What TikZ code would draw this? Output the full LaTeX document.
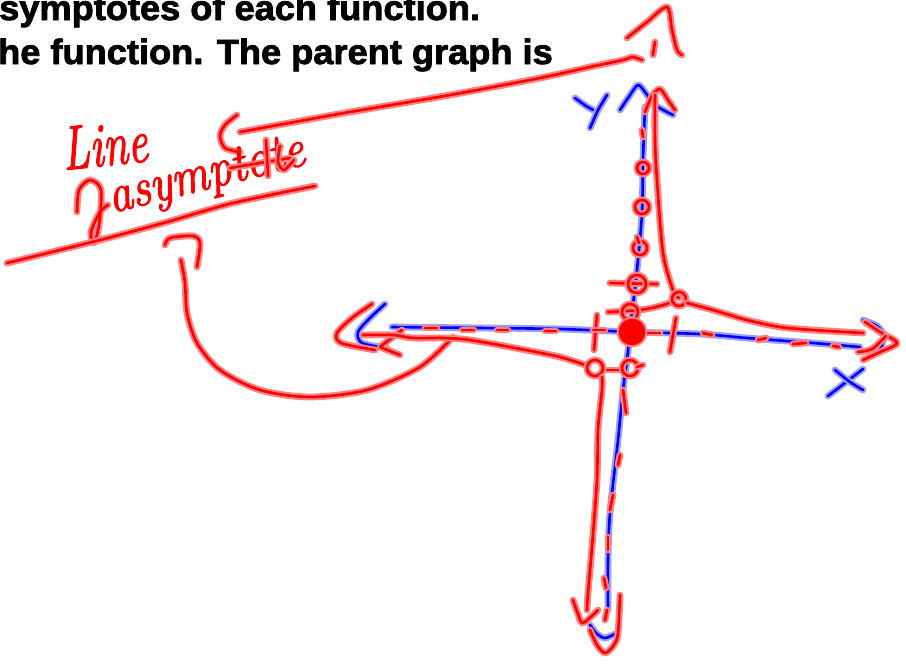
\documentclass[tikz,border=0pt]{standalone}
\usepackage{fontspec}
\setmainfont{Liberation Sans}
\newfontfamily\headfont[BoldFeatures={FakeBold=2.2}]{Liberation Sans}
\newfontfamily\handfont[ItalicFeatures={FakeBold=2.2}]{Latin Modern Roman}
\begin{document}
\begin{tikzpicture}[x=1pt,y={(0pt,-1pt)},
  rs/.style={draw=red, line width=2.6pt, line cap=round, line join=round,
    preaction={draw=red!50, line width=6.8pt, line cap=round, line join=round}},
  bs/.style={draw=blue, line width=2.6pt, line cap=round, line join=round,
    preaction={draw=blue!38, line width=6.8pt, line cap=round, line join=round}},
  blob/.style={rs, fill=red},
  head/.style={anchor=base west, inner sep=0pt, font=\headfont\bfseries\fontsize{34}{40}\selectfont},
  hand/.style={anchor=base west, inner sep=0pt, text=red}
]
\useasboundingbox (0,0) rectangle (906,664);
\fill[white] (0,0) rectangle (906,664);

% printed text
\node[head] (t1) at (-1,20) {\scalebox{1.065}[1.03]{symptotes of each function.}};
\node[head] (t2) at (-2,64) {\scalebox{1.065}[1.03]{he function. The parent graph is}};

% ---------- blue axes ----------
\draw[bs] plot[smooth] coordinates {(645,107) (643,160) (642,213) (637,270) (632,313) (627,360) (623,390) (618,440) (610,513) (608,560) (608,610)};
\draw[bs] plot[smooth] coordinates {(590,625) (597,634) (605,638) (615,634)};
\draw[bs] plot[smooth] coordinates {(620,110) (630,95) (638,85) (645,92) (655,105) (673,115)};
\draw[bs] (575,98) -- (586,106) -- (593,110);
\draw[bs] (607,95) -- (598,110) -- (590,128);
\draw[bs] plot[smooth] coordinates {(392,327) (480,328) (560,329) (632,332) (700,334) (747,338) (813,343) (860,347)};
\draw[bs] plot[smooth] coordinates {(385,304) (370,318) (358,332) (362,343) (387,348)};
\draw[bs] plot[smooth] coordinates {(863,320) (877,326) (884,336) (880,350)};
\draw[bs] (863,369) -- (828,396);
\draw[bs] plot[smooth] coordinates {(835,370) (850,382) (863,390)};

% ---------- red: top arrow and long line ----------
\draw[rs] plot[smooth] coordinates {(627,38) (647,22) (667,7) (672,30) (677,50) (682,55)};
\draw[rs] (655,42) -- (653,55);
\draw[rs] plot[smooth] coordinates {(240,132) (300,121) (350,112) (450,95) (540,78) (590,67) (623,60) (632,57) (642,60)};
\draw[rs] plot[smooth] coordinates {(237,115) (225,125) (220,136) (225,148) (240,152)};

% handwriting
\node[hand, font=\handfont\itshape\fontsize{46}{46}\selectfont, rotate=6] (w1) at (64,170) {\scalebox{0.97}[1.35]{Line}};
\node[hand, font=\handfont\itshape\fontsize{47}{47}\selectfont, rotate=14] (w2) at (112,213) {\scalebox{1}[1.15]{asymptote}};
\draw[rs] plot[smooth] coordinates {(77,212) (79,190) (90,180) (101,190) (99,225) (94,243) (91,232) (100,212) (108,205)};
\draw[rs] (230,168) -- (290,158);
\draw[rs] (266,140) -- (268,176);
\draw[rs] plot[smooth] coordinates {(280,146) (278,162) (284,170) (294,160)};
\draw[rs] plot[smooth] coordinates {(7,263) (100,240) (167,222) (233,203) (315,186)};

% curved arrow
\draw[rs] plot[smooth] coordinates {(165,245) (170,238) (193,236) (200,243) (197,267)};
\draw[rs] plot[smooth] coordinates {(181,260) (185,283) (187,313) (197,343) (220,370) (260,390) (310,397) (367,390) (420,367) (453,337)};

% ---------- red: left part ----------
\draw[rs] plot[smooth] coordinates {(372,304) (352,318) (337,333) (341,343) (375,350)};
\draw[rs] (402,330) -- (380,347) -- (400,355);
\draw[rs] plot[smooth] coordinates {(363,335) (393,335) (413,338) (443,338) (470,340) (515,348) (560,357) (588,366)};
\draw[rs] (425,328) -- (437,328);
\draw[rs] (462,330) -- (474,330);
\draw[rs] (497,330) -- (508,330);
\draw[rs] (545,331) -- (556,331);

% ---------- red: centre ----------
\draw[rs] plot[smooth] coordinates {(645,112) (652,96) (660,89) (668,100) (675,110)};
\draw[rs] plot[smooth] coordinates {(655,95) (655,140) (657,180) (663,253) (673,290) (679,298)};
\draw[rs] (642,130) -- (643,137);
\draw[rs] (643,168) circle[radius=6];
\draw[rs] (642,207) circle[radius=7];
\draw[rs] (640,248) circle[radius=7];
\draw[rs] (637,237) -- (639,243);
\draw[rs] (610,283) -- (657,284);
\draw[rs] (637,284) circle[radius=9];
\draw[rs] plot[smooth] coordinates {(608,312) (640,310) (660,306) (672,302)};
\draw[rs] (630,312) circle[radius=8];
\draw[rs] (679,299) circle[radius=7];
\draw[rs] (597,315) -- (594,350);
\draw[rs] (593,330) -- (605,330);
\draw[rs] (676,318) -- (670,352);
\draw[rs] (645,333) -- (660,333);
\draw[blob] (632,332) circle[radius=12];
\draw[rs] (603,370) -- (623,370);
\draw[rs] (595,368) circle[radius=8];
\draw[rs] (630,368) circle[radius=8];
\draw[rs] (637,367) -- (643,365);

% ---------- red: right part ----------
\draw[rs] plot[smooth] coordinates {(687,303) (713,310) (747,320) (780,327) (813,330) (863,333)};
\draw[rs] plot[smooth] coordinates {(865,322) (880,332) (897,343) (880,352) (863,360)};
\draw[rs] plot[smooth] coordinates {(858,352) (872,349) (886,336)};
\draw[rs] (703,333) -- (712,335);
\draw[rs] (758,340) -- (766,338);
\draw[rs] (793,344) -- (806,343);
\draw[rs] (833,346) -- (839,347);

% ---------- red: bottom ----------
\draw[rs] plot[smooth] coordinates {(602,377) (602,390) (598,430) (597,480) (592,547) (588,593) (587,610)};
\draw[rs] plot[smooth] coordinates {(573,600) (578,614) (583,623) (598,610)};
\draw[rs] plot[smooth] coordinates {(590,630) (597,645) (605,653) (614,645) (618,633) (620,595)};
\draw[rs] (607,610) -- (605,620);
\draw[rs] (623,390) -- (626,413);
\draw[rs] (620,455) -- (618,465);
\draw[rs] (613,495) -- (610,510);
\draw[rs] (608,537) -- (608,550);
\draw[rs] (604,578) -- (606,588);
\end{tikzpicture}
\end{document}
